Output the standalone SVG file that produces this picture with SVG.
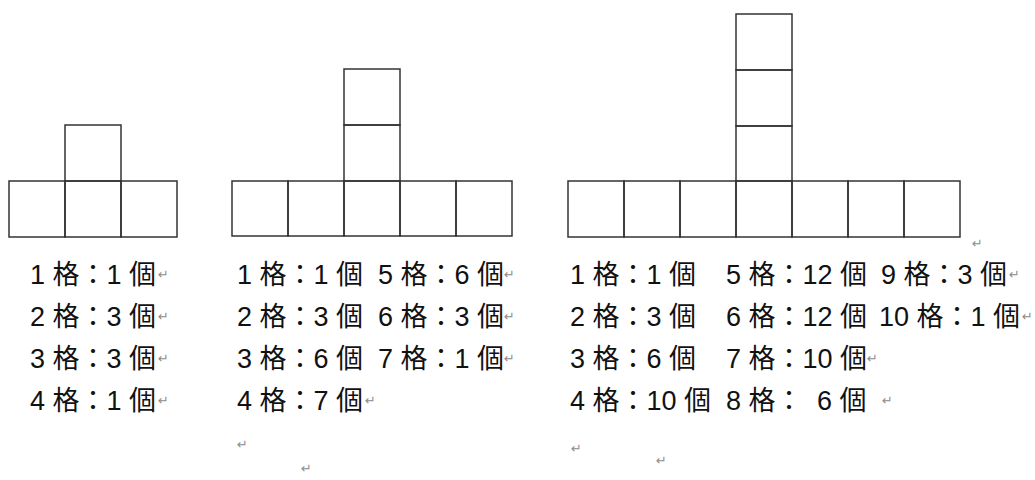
<svg xmlns="http://www.w3.org/2000/svg" width="1035" height="480" viewBox="0 0 1035 480">
<style>
.sq{fill:none;stroke:#333;stroke-width:1.5}
.t{font-family:"Liberation Sans","Noto Sans CJK TC",sans-serif;font-size:27px;fill:#111}
.pm{font-family:"DejaVu Sans",sans-serif;font-size:13px;fill:#8c8c8c}
</style>
<rect width="1035" height="480" fill="#fff"/>
<g id="shape1">
<rect class="sq" x="65" y="125" width="56" height="56"/>
<rect class="sq" x="9" y="181" width="56" height="56"/>
<rect class="sq" x="65" y="181" width="56" height="56"/>
<rect class="sq" x="121" y="181" width="56" height="56"/>
</g>
<g id="shape2">
<rect class="sq" x="344" y="69" width="56" height="56"/>
<rect class="sq" x="344" y="125" width="56" height="56"/>
<rect class="sq" x="232" y="181" width="56" height="55"/>
<rect class="sq" x="288" y="181" width="56" height="55"/>
<rect class="sq" x="344" y="181" width="56" height="55"/>
<rect class="sq" x="400" y="181" width="56" height="55"/>
<rect class="sq" x="456" y="181" width="56" height="55"/>
</g>
<g id="shape3">
<rect class="sq" x="736" y="14" width="56" height="56"/>
<rect class="sq" x="736" y="70" width="56" height="56"/>
<rect class="sq" x="736" y="126" width="56" height="55"/>
<rect class="sq" x="568" y="181" width="56" height="56"/>
<rect class="sq" x="624" y="181" width="56" height="56"/>
<rect class="sq" x="680" y="181" width="56" height="56"/>
<rect class="sq" x="736" y="181" width="56" height="56"/>
<rect class="sq" x="792" y="181" width="56" height="56"/>
<rect class="sq" x="848" y="181" width="56" height="56"/>
<rect class="sq" x="904" y="181" width="56" height="56"/>
</g>
<g id="text1">
<text class="t" x="30" y="284">1 格：1 個</text>
<text class="t" x="30" y="326">2 格：3 個</text>
<text class="t" x="30" y="368">3 格：3 個</text>
<text class="t" x="30" y="410">4 格：1 個</text>
<text class="pm" x="158" y="279">↵</text>
<text class="pm" x="158" y="321">↵</text>
<text class="pm" x="158" y="363">↵</text>
<text class="pm" x="158" y="405">↵</text>
</g>
<g id="text2">
<text class="t" x="237" y="284">1 格：1 個</text>
<text class="t" x="237" y="326">2 格：3 個</text>
<text class="t" x="237" y="368">3 格：6 個</text>
<text class="t" x="237" y="410">4 格：7 個</text>
<text class="t" x="378" y="284">5 格：6 個</text>
<text class="t" x="378" y="326">6 格：3 個</text>
<text class="t" x="378" y="368">7 格：1 個</text>
<text class="pm" x="504" y="279">↵</text>
<text class="pm" x="504" y="321">↵</text>
<text class="pm" x="504" y="363">↵</text>
<text class="pm" x="365" y="405">↵</text>
<text class="pm" x="237" y="449">↵</text>
<text class="pm" x="301" y="473">↵</text>
</g>
<g id="text3">
<text class="t" x="570" y="284">1 格：1 個</text>
<text class="t" x="570" y="326">2 格：3 個</text>
<text class="t" x="570" y="368">3 格：6 個</text>
<text class="t" x="570" y="410">4 格：10 個</text>
<text class="t" x="726" y="284">5 格：12 個</text>
<text class="t" x="726" y="326">6 格：12 個</text>
<text class="t" x="726" y="368">7 格：10 個</text>
<text class="t" x="726" y="410">8 格：<tspan x="817">6 個</tspan></text>
<text class="t" x="881" y="284">9 格：3 個</text>
<text class="t" x="879" y="326">10 格：1 個</text>
<text class="pm" x="1009" y="279">↵</text>
<text class="pm" x="1022" y="321">↵</text>
<text class="pm" x="867" y="363">↵</text>
<text class="pm" x="882" y="405">↵</text>
<text class="pm" x="972" y="248">↵</text>
<text class="pm" x="571" y="453">↵</text>
<text class="pm" x="656" y="465">↵</text>
</g>
</svg>
